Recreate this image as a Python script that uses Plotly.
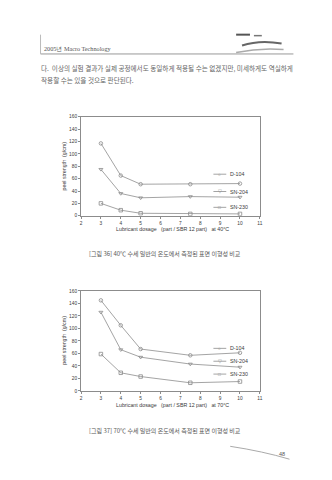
import plotly.graph_objects as go

# ---- data ----
x_dosage = [3, 4, 5, 7.5, 10]
series_names = ["D-104", "SN-204", "SN-230"]
d104_40 = [117, 65, 51, 51, 52]
sn204_40 = [75, 36, 29, 31, 30]
sn230_40 = [20, 9, 4, 3, 3]
d104_70 = [145, 105, 67, 57, 61]
sn204_70 = [126, 66, 54, 43, 38]
sn230_70 = [59, 29, 23, 13, 15]
x_ticks = list(range(2, 12))
y_ticks = list(range(0, 161, 20))

W, H = 332, 480
def fx(px):
    return px / W
def fy(py):
    return 1 - py / H

FONT = "Liberation Sans, Arial, sans-serif"
KFONT = "Noto Sans CJK KR, sans-serif"
LINE = "#9a9a9a"
MARK = "#8a8a8a"
TXT = "#3a3a3a"

symbols = ["circle-open", "triangle-down-open", "square-open"]

fig = go.Figure()
for data40, data70, name, sym in [
    (d104_40, d104_70, series_names[0], symbols[0]),
    (sn204_40, sn204_70, series_names[1], symbols[1]),
    (sn230_40, sn230_70, series_names[2], symbols[2]),
]:
    fig.add_trace(go.Scatter(
        x=x_dosage, y=data40, name=name, mode="lines+markers", showlegend=False,
        line=dict(color=LINE, width=0.9),
        marker=dict(symbol=sym, size=3.5, color=MARK, line=dict(color=MARK, width=0.8)),
        xaxis="x", yaxis="y"))
    fig.add_trace(go.Scatter(
        x=x_dosage, y=data70, name=name, mode="lines+markers", showlegend=False,
        line=dict(color=LINE, width=0.9),
        marker=dict(symbol=sym, size=3.5, color=MARK, line=dict(color=MARK, width=0.8)),
        xaxis="x2", yaxis="y2"))

axis_common = dict(
    showline=True, linecolor="#8c8c8c", linewidth=1, mirror=True,
    ticks="outside", ticklen=2, tickcolor="#8c8c8c", tickwidth=1,
    tickfont=dict(size=4.8, family=FONT, color=TXT),
    showgrid=False, zeroline=False,
)

fig.update_layout(
    width=W, height=H,
    margin=dict(l=0, r=0, t=0, b=0),
    paper_bgcolor="white", plot_bgcolor="white",
    showlegend=False,
    xaxis=dict(domain=[fx(81), fx(262)], anchor="y", range=[2, 11],
               tickvals=x_ticks, **axis_common),
    yaxis=dict(domain=[fy(216), fy(116)], anchor="x", range=[0, 160],
               tickvals=y_ticks, **axis_common),
    xaxis2=dict(domain=[fx(81), fx(262)], anchor="y2", range=[2, 11],
                tickvals=x_ticks, **axis_common),
    yaxis2=dict(domain=[fy(393), fy(292)], anchor="x2", range=[0, 160],
                tickvals=y_ticks, **axis_common),
)

def A(text, px, py, size, family=FONT, color=TXT, xanchor="center", angle=0):
    return dict(text=text, x=fx(px), y=fy(py), xref="paper", yref="paper",
                xanchor=xanchor, yanchor="middle", textangle=angle, showarrow=False,
                font=dict(size=size, family=family, color=color))

ann = []
shapes = []
# axis titles
ann.append(A("peel strength  (g/cm)", 64, 166, 5.3, angle=-90))
ann.append(A("peel strength  (g/cm)", 64, 342, 5.3, angle=-90))
ann.append(A("Lubricant dosage   (part / SBR 12 part)   at 40°C", 174, 229, 5.3))
ann.append(A("Lubricant dosage   (part / SBR 12 part)   at 70°C", 174, 407, 5.3))

# manual legends
legend_rows = [(174, 191.5, 207.5), (350, 363, 376)]
marker_glyph = ["○", "▽", "□"]
for rows in legend_rows:
    for i, py in enumerate(rows):
        shapes.append(dict(type="line", xref="paper", yref="paper",
                           x0=fx(215), x1=fx(228), y0=fy(py), y1=fy(py),
                           line=dict(color=LINE, width=0.9)))
        ann.append(A(marker_glyph[i], 221.5, py, 4.5, color=MARK))
        ann.append(A(series_names[i], 230, py, 5.3, xanchor="left"))

# captions
ann.append(A("[그림 36] 40℃ 수세 일반의 온도에서 측정된 표면 이형성 비교", 166, 254, 6, KFONT, "#555"))
ann.append(A("[그림 37] 70℃ 수세 일반의 온도에서 측정된 표면 이형성 비교", 166, 433, 6, KFONT, "#555"))
# header & paragraph
ann.append(A("2005년 Macro Technology", 42, 47, 6.2, "Liberation Serif, serif", "#555", "left"))
ann.append(A("다.  이상의 실험 결과가 실제 공정에서도 동일하게 적용될 수는 없겠지만, 미세하게도 역실하게",
             38, 67, 6.6, KFONT, "#666", "left"))
ann.append(A("작용할 수는 있을 것으로 판단된다.", 38, 79, 6.6, KFONT, "#666", "left"))
ann.append(A("48", 284, 457, 5.5, FONT, "#555"))

shapes += [
    dict(type="line", xref="paper", yref="paper", x0=fx(40), x1=fx(296), y0=fy(52.5), y1=fy(52.5),
         line=dict(color="#999", width=1)),
    dict(type="line", xref="paper", yref="paper", x0=fx(40), x1=fx(40), y0=fy(33), y1=fy(52.5),
         line=dict(color="#bbb", width=1)),
    # logo-like swoosh
    dict(type="path", xref="paper", yref="paper",
         path=f"M {fx(238)} {fy(51)} Q {fx(262)} {fy(46)} {fx(286)} {fy(48)}",
         line=dict(color="#aaa", width=1.5)),
    dict(type="path", xref="paper", yref="paper",
         path=f"M {fx(244)} {fy(44)} Q {fx(262)} {fy(38)} {fx(284)} {fy(42)}",
         line=dict(color="#666", width=2)),
    dict(type="line", xref="paper", yref="paper", x0=fx(238), x1=fx(252), y0=fy(33), y1=fy(33),
         line=dict(color="#555", width=2)),
    dict(type="line", xref="paper", yref="paper", x0=fx(256), x1=fx(264), y0=fy(34), y1=fy(34),
         line=dict(color="#777", width=1.5)),
    # page-number swoosh
    dict(type="path", xref="paper", yref="paper",
         path=f"M {fx(232)} {fy(449)} Q {fx(265)} {fy(454)} {fx(292)} {fy(462)}",
         line=dict(color="#aaa", width=1)),
]

fig.update_layout(annotations=ann, shapes=shapes)
fig.write_html("out.html")
